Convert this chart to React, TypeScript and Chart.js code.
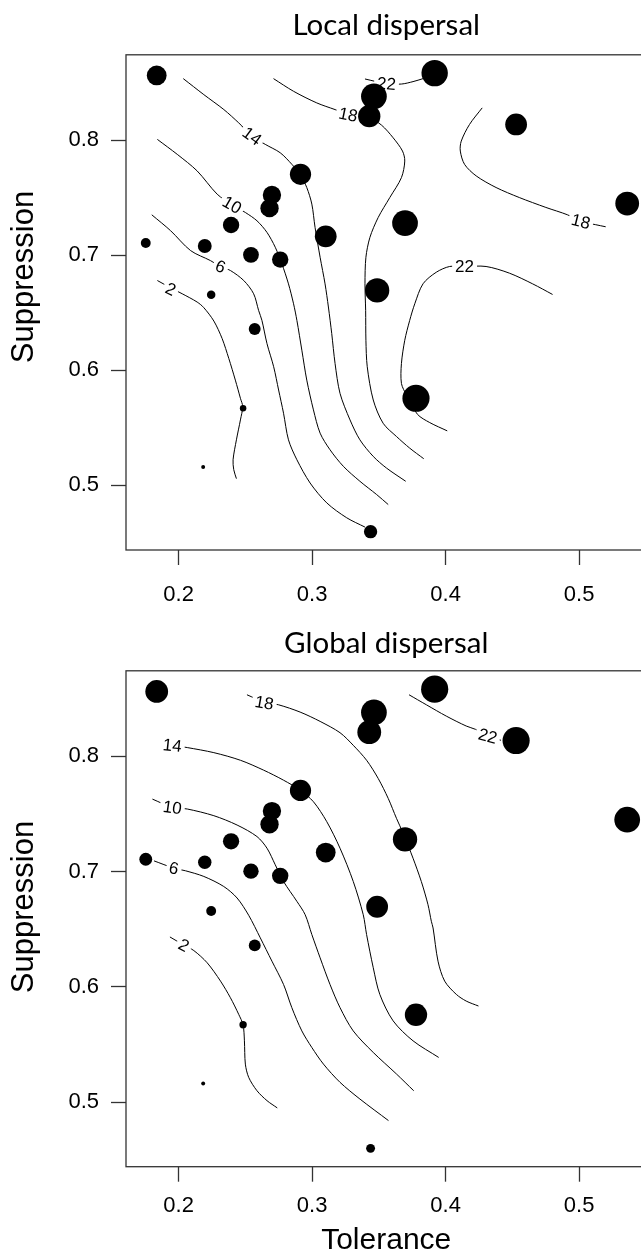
import React, { useEffect, useRef } from "react";
import { Chart, registerables } from "chart.js";

Chart.register(...registerables);

// ---------- data ----------
const tolerance = [0.1836, 0.3918, 0.3463, 0.3428, 0.4528, 0.536, 0.2913, 0.2699, 0.2681, 0.2393, 0.3696, 0.3102, 0.1754, 0.2196, 0.2542, 0.2761, 0.3487, 0.2244, 0.257, 0.3778, 0.2483, 0.2184, 0.3438];
const suppression = [0.8562, 0.8582, 0.838, 0.8208, 0.8136, 0.7449, 0.7703, 0.7524, 0.7409, 0.7262, 0.7279, 0.7164, 0.7106, 0.708, 0.7003, 0.6962, 0.6694, 0.6657, 0.6359, 0.5757, 0.567, 0.516, 0.4598];
const localRichness = [18, 24, 23.4, 20.3, 19.8, 21.6, 19.3, 16.7, 16.7, 14.9, 23.4, 19.8, 9, 12.6, 14.4, 14.9, 22.1, 7.7, 10.8, 24.7, 5.9, 3.6, 12.1];
const globalRichness = [20.7, 24.7, 23.4, 21.6, 24.7, 23.4, 19.3, 16.7, 16.7, 14.8, 22.1, 18, 11.7, 12.2, 14, 14.9, 19.8, 9, 10.8, 20.3, 6.7, 3.6, 8.1];

const xTicks = [0.2, 0.3, 0.4, 0.5];
const yTicks = [0.5, 0.6, 0.7, 0.8];

type Pair = [number, number];

// Local dispersal contour lines (tolerance, suppression)
const localC2: Pair[] = [[0.1841, 0.678], [0.194, 0.6717], [0.2027, 0.6665], [0.2139, 0.6593], [0.2189, 0.6544], [0.2264, 0.6428], [0.2326, 0.6276], [0.2376, 0.6103], [0.2425, 0.5915], [0.2463, 0.5757], [0.248, 0.5685], [0.2463, 0.5569], [0.2433, 0.5396], [0.2408, 0.5223], [0.2413, 0.5137], [0.2433, 0.5059]];
const localC6: Pair[] = [[0.1799, 0.7351], [0.194, 0.7213], [0.209, 0.704], [0.2239, 0.6953], [0.2314, 0.6901], [0.2388, 0.6867], [0.2488, 0.678], [0.2562, 0.6665], [0.2599, 0.6521], [0.2624, 0.6434], [0.2662, 0.6232], [0.2712, 0.6031], [0.2749, 0.5829], [0.2786, 0.5627], [0.2823, 0.5396], [0.2886, 0.5223], [0.2985, 0.5021], [0.311, 0.4848], [0.3259, 0.4719], [0.3396, 0.4638]];
const localC10: Pair[] = [[0.1841, 0.8006], [0.199, 0.7876], [0.2139, 0.7732], [0.2289, 0.753], [0.2401, 0.7438], [0.25, 0.7371], [0.2587, 0.7299], [0.2662, 0.7198], [0.2724, 0.7069], [0.2774, 0.6924], [0.2823, 0.6751], [0.2861, 0.6578], [0.2886, 0.6434], [0.2923, 0.6175], [0.296, 0.5915], [0.301, 0.5656], [0.306, 0.5454], [0.3134, 0.531], [0.3234, 0.5166], [0.3358, 0.5036], [0.3483, 0.4921], [0.357, 0.4834]];
const localC14: Pair[] = [[0.2035, 0.8534], [0.2189, 0.8395], [0.2339, 0.8265], [0.245, 0.815], [0.255, 0.8035], [0.2649, 0.7963], [0.2761, 0.789], [0.2848, 0.779], [0.291, 0.7703], [0.296, 0.7588], [0.2998, 0.7444], [0.3022, 0.7242], [0.306, 0.6982], [0.3097, 0.6751], [0.3122, 0.655], [0.3147, 0.6319], [0.3172, 0.6059], [0.3209, 0.58], [0.3284, 0.5569], [0.3358, 0.5396], [0.3458, 0.5252], [0.3557, 0.5151], [0.3701, 0.5036]];
const localC18a: Pair[] = [[0.2711, 0.8534], [0.2861, 0.8424], [0.3035, 0.8323], [0.3172, 0.8265], [0.3271, 0.8222], [0.3428, 0.8193], [0.352, 0.813], [0.3607, 0.802], [0.3677, 0.7905], [0.3694, 0.7818], [0.3669, 0.7674], [0.3582, 0.7501], [0.3495, 0.7328], [0.3433, 0.7155], [0.3403, 0.6982], [0.3396, 0.6752], [0.3401, 0.6521], [0.3403, 0.6261], [0.3413, 0.6031], [0.3458, 0.5742], [0.3532, 0.554], [0.3632, 0.5425], [0.3731, 0.5324], [0.3836, 0.5232]];
const localC22a: Pair[] = [[0.3396, 0.8531], [0.3557, 0.849], [0.3669, 0.8487], [0.3756, 0.8508], [0.3831, 0.8534], [0.3906, 0.8562]];
const localC18b: Pair[] = [[0.4274, 0.828], [0.4179, 0.8136], [0.4117, 0.7991], [0.411, 0.7905], [0.4142, 0.7789], [0.4229, 0.7689], [0.4378, 0.7588], [0.4552, 0.7501], [0.4751, 0.7415], [0.4913, 0.7351], [0.5013, 0.7294], [0.5124, 0.7265], [0.5199, 0.7247]];
const localC22b: Pair[] = [[0.4801, 0.6659], [0.4652, 0.6751], [0.4478, 0.6844], [0.4303, 0.6902], [0.4142, 0.6902], [0.403, 0.6902], [0.393, 0.6852], [0.3831, 0.6752], [0.3769, 0.6578], [0.3731, 0.6434], [0.3694, 0.6261], [0.3669, 0.6059], [0.3669, 0.5886], [0.3707, 0.5785], [0.3789, 0.5618], [0.3881, 0.5546], [0.4012, 0.5474]];

// Global dispersal contour lines
const globalC2: Pair[] = [[0.1935, 0.6432], [0.204, 0.6361], [0.2114, 0.6314], [0.2214, 0.6208], [0.2314, 0.6049], [0.2388, 0.5905], [0.245, 0.5761], [0.2483, 0.5669], [0.2493, 0.5531], [0.25, 0.5329], [0.2525, 0.5214], [0.2587, 0.5098], [0.2662, 0.5012], [0.2739, 0.4949]];
const globalC6: Pair[] = [[0.1816, 0.7092], [0.1965, 0.7029], [0.2052, 0.7006], [0.2189, 0.6957], [0.2338, 0.687], [0.2438, 0.677], [0.2525, 0.662], [0.2612, 0.6424], [0.2699, 0.6222], [0.2786, 0.602], [0.2848, 0.5819], [0.2923, 0.5617], [0.2998, 0.5473], [0.3085, 0.5329], [0.3209, 0.5171], [0.3358, 0.5026], [0.3572, 0.4839]];
const globalC10: Pair[] = [[0.1804, 0.7628], [0.1953, 0.7556], [0.2065, 0.7542], [0.2264, 0.7484], [0.2438, 0.7403], [0.2587, 0.7303], [0.2662, 0.7202], [0.2724, 0.7058], [0.2786, 0.6913], [0.2886, 0.6741], [0.2948, 0.6625], [0.2998, 0.6453], [0.306, 0.6251], [0.3134, 0.602], [0.3209, 0.5819], [0.3308, 0.5617], [0.3458, 0.543], [0.3632, 0.5243], [0.3761, 0.5098]];
const globalC14: Pair[] = [[0.1878, 0.8109], [0.1953, 0.8095], [0.2065, 0.8075], [0.2264, 0.8031], [0.2463, 0.7965], [0.2637, 0.7879], [0.2786, 0.7792], [0.291, 0.7706], [0.301, 0.7605], [0.311, 0.7432], [0.3209, 0.7202], [0.3308, 0.6914], [0.3383, 0.6625], [0.3408, 0.6453], [0.3458, 0.6165], [0.3507, 0.5934], [0.3607, 0.5704], [0.3756, 0.5531], [0.3948, 0.5387]];
const globalC18: Pair[] = [[0.2512, 0.8533], [0.2642, 0.8469], [0.2749, 0.8446], [0.291, 0.8383], [0.306, 0.8302], [0.3209, 0.8204], [0.3308, 0.8095], [0.3408, 0.7965], [0.3495, 0.7807], [0.357, 0.7634], [0.3632, 0.7461], [0.3682, 0.7331], [0.3756, 0.7115], [0.3818, 0.6913], [0.3868, 0.6712], [0.3893, 0.6568], [0.3906, 0.651], [0.3943, 0.6222], [0.3993, 0.6049], [0.408, 0.5934], [0.4154, 0.5876], [0.4246, 0.5833]];
const globalC22: Pair[] = [[0.3726, 0.8533], [0.3856, 0.8446], [0.4005, 0.8348], [0.4154, 0.8262], [0.4224, 0.8233], [0.4323, 0.8175], [0.4415, 0.8138]];

// contour labels: text, tolerance, suppression, rotation (deg)
const localLabelText = ["2", "6", "10", "14", "18", "22", "18", "22"];
const localLabelX = [0.194, 0.2314, 0.2401, 0.255, 0.3271, 0.3557, 0.5013, 0.4142];
const localLabelY = [0.6705, 0.6901, 0.7438, 0.8035, 0.8222, 0.849, 0.7294, 0.6902];
const localLabelAngle = [25, 22, 30, 36, 12, 5, 14, 0];

const globalLabelText = ["2", "6", "10", "14", "18", "22"];
const globalLabelX = [0.204, 0.1965, 0.1953, 0.1953, 0.2642, 0.4316];
const globalLabelY = [0.6361, 0.7029, 0.7556, 0.8095, 0.8464, 0.8175];
const globalLabelAngle = [28, 12, 8, 6, 10, 15];

// ---------- styling ----------
const SIZE_SCALE = 0.55; // radius px per richness unit
const X_MIN = 0.1606, X_MAX = 0.5504, Y_MIN = 0.4439, Y_MAX = 0.8741;
const AXIS_FONT = "'Liberation Sans', Arial, sans-serif";
const TITLE_FONT = "Lato, Carlito, 'Liberation Sans', sans-serif";

const boxPlugin = {
  id: "plotBox",
  afterDatasetsDraw(chart: any) {
    const { ctx, chartArea: a } = chart;
    ctx.save();
    ctx.strokeStyle = "#333";
    ctx.lineWidth = 1.3;
    ctx.strokeRect(a.left, a.top, a.right - a.left, a.bottom - a.top);
    ctx.restore();
  },
};

const yTitlePlugin = {
  id: "yTitle",
  afterDraw(chart: any, _args: any, opts: any) {
    if (!opts || !opts.text) return;
    const { ctx } = chart;
    ctx.save();
    ctx.translate(opts.x, opts.y);
    ctx.rotate(-Math.PI / 2);
    ctx.font = `${opts.size}px ${AXIS_FONT}`;
    ctx.fillStyle = "#000";
    ctx.textAlign = "center";
    ctx.textBaseline = "middle";
    ctx.fillText(opts.text, 0, 0);
    ctx.restore();
  },
};

const contourLabelPlugin = {
  id: "contourLabels",
  beforeDatasetDraw(chart: any, args: any, opts: any) {
    if (args.index !== chart.data.datasets.length - 1) return;
    const { ctx, scales } = chart;
    const { text, xs, ys, angles } = opts;
    if (!text) return;
    ctx.save();
    ctx.font = `17px ${AXIS_FONT}`;
    ctx.textAlign = "center";
    ctx.textBaseline = "middle";
    for (let i = 0; i < text.length; i++) {
      const px = scales.x.getPixelForValue(xs[i]);
      const py = scales.y.getPixelForValue(ys[i]);
      ctx.save();
      ctx.translate(px, py);
      ctx.rotate((angles[i] * Math.PI) / 180);
      const w = ctx.measureText(text[i]).width;
      ctx.fillStyle = "#fff";
      ctx.fillRect(-w / 2 - 3, -8, w + 6, 16);
      ctx.fillStyle = "#000";
      ctx.fillText(text[i], 0, 1);
      ctx.restore();
    }
    ctx.restore();
  },
};

interface PanelProps {
  title: string;
  contours: Pair[][];
  labels: { text: string[]; xs: number[]; ys: number[]; angles: number[] };
  richness: number[];
  top: number;
  height: number;
  titlePadTop: number;
  titlePadBottom: number;
  xAxisHeight: number;
  xTickPad: number;
  yTitleY: number;
  xTitle?: string;
}

function Panel(p: PanelProps) {
  const ref = useRef<HTMLCanvasElement>(null);
  useEffect(() => {
    const datasets: any[] = p.contours.map((c) => ({
      data: c.map(([x, y]) => ({ x, y })),
      showLine: true,
      borderColor: "#000",
      borderWidth: 1,
      pointRadius: 0,
      tension: 0.3,
      fill: false,
      order: 1,
    }));
    datasets.push({
      data: tolerance.map((x, i) => ({ x, y: suppression[i] })),
      pointRadius: p.richness.map((v) => v * SIZE_SCALE),
      pointBackgroundColor: "#000",
      pointBorderWidth: 0,
      borderWidth: 0,
      showLine: false,
      order: 0,
    });
    const tickFont = { family: AXIS_FONT, size: 22, lineHeight: 1.2 };
    const gridOpts = {
      display: true,
      drawOnChartArea: false,
      drawTicks: true,
      tickLength: 15,
      tickColor: "#333",
      tickWidth: 1.3,
      color: "#333",
    };
    const chart = new Chart(ref.current as HTMLCanvasElement, {
      type: "scatter",
      data: { datasets },
      plugins: [boxPlugin, contourLabelPlugin, yTitlePlugin],
      options: {
        animation: false,
        responsive: false,
        events: [],
        layout: { padding: { left: 0, right: 12.5, top: 0, bottom: 0 } },
        plugins: {
          legend: { display: false },
          tooltip: { enabled: false },
          title: {
            display: true,
            text: p.title,
            fullSize: false,
            color: "#000",
            font: { family: TITLE_FONT, size: 29.5, weight: "normal", lineHeight: 1.2 },
            padding: { top: p.titlePadTop, bottom: p.titlePadBottom },
          },
          contourLabels: p.labels,
          yTitle: { text: "Suppression", x: 24, y: p.yTitleY, size: 31 },
        } as any,
        scales: {
          x: {
            type: "linear",
            min: X_MIN,
            max: X_MAX,
            afterBuildTicks: (s: any) => {
              s.ticks = xTicks.map((v) => ({ value: v }));
            },
            afterFit: (s: any) => {
              s.height = p.xAxisHeight;
            },
            grid: gridOpts,
            border: { display: false },
            ticks: {
              autoSkip: false,
              maxRotation: 0,
              padding: p.xTickPad,
              color: "#000",
              font: tickFont,
              callback: (v: any) => Number(v).toFixed(1),
            },
            title: {
              display: !!p.xTitle,
              text: p.xTitle || "",
              color: "#000",
              font: { family: AXIS_FONT, size: 30, lineHeight: 1 },
              padding: { top: 0, bottom: 1.5 },
            },
          },
          y: {
            type: "linear",
            min: Y_MIN,
            max: Y_MAX,
            afterBuildTicks: (s: any) => {
              s.ticks = yTicks.map((v) => ({ value: v }));
            },
            afterFit: (s: any) => {
              s.width = 126;
            },
            grid: gridOpts,
            border: { display: false },
            ticks: {
              autoSkip: false,
              padding: 12,
              color: "#000",
              font: tickFont,
              callback: (v: any) => Number(v).toFixed(1),
            },
            title: { display: false },
          },
        },
      } as any,
    });
    return () => chart.destroy();
  }, []);
  return (
    <canvas
      ref={ref}
      width={660}
      height={p.height}
      style={{ position: "absolute", left: 0, top: p.top, display: "block" }}
    />
  );
}

export default function App() {
  return (
    <div
      style={{
        position: "absolute",
        left: 0,
        top: 0,
        width: 641,
        height: 1257,
        overflow: "hidden",
        background: "#fff",
      }}
    >
      <Panel
        title="Local dispersal"
        contours={[localC2, localC6, localC10, localC14, localC18a, localC22a, localC18b, localC22b]}
        labels={{ text: localLabelText, xs: localLabelX, ys: localLabelY, angles: localLabelAngle }}
        richness={localRichness}
        top={0}
        height={615}
        titlePadTop={7.7}
        titlePadBottom={11.7}
        xAxisHeight={65}
        xTickPad={17}
        yTitleY={277}
      />
      <Panel
        title="Global dispersal"
        contours={[globalC2, globalC6, globalC10, globalC14, globalC18, globalC22]}
        labels={{ text: globalLabelText, xs: globalLabelX, ys: globalLabelY, angles: globalLabelAngle }}
        richness={globalRichness}
        top={615}
        height={642}
        titlePadTop={10.7}
        titlePadBottom={9.7}
        xAxisHeight={90.3}
        xTickPad={11}
        yTitleY={292}
        xTitle="Tolerance"
      />
    </div>
  );
}
